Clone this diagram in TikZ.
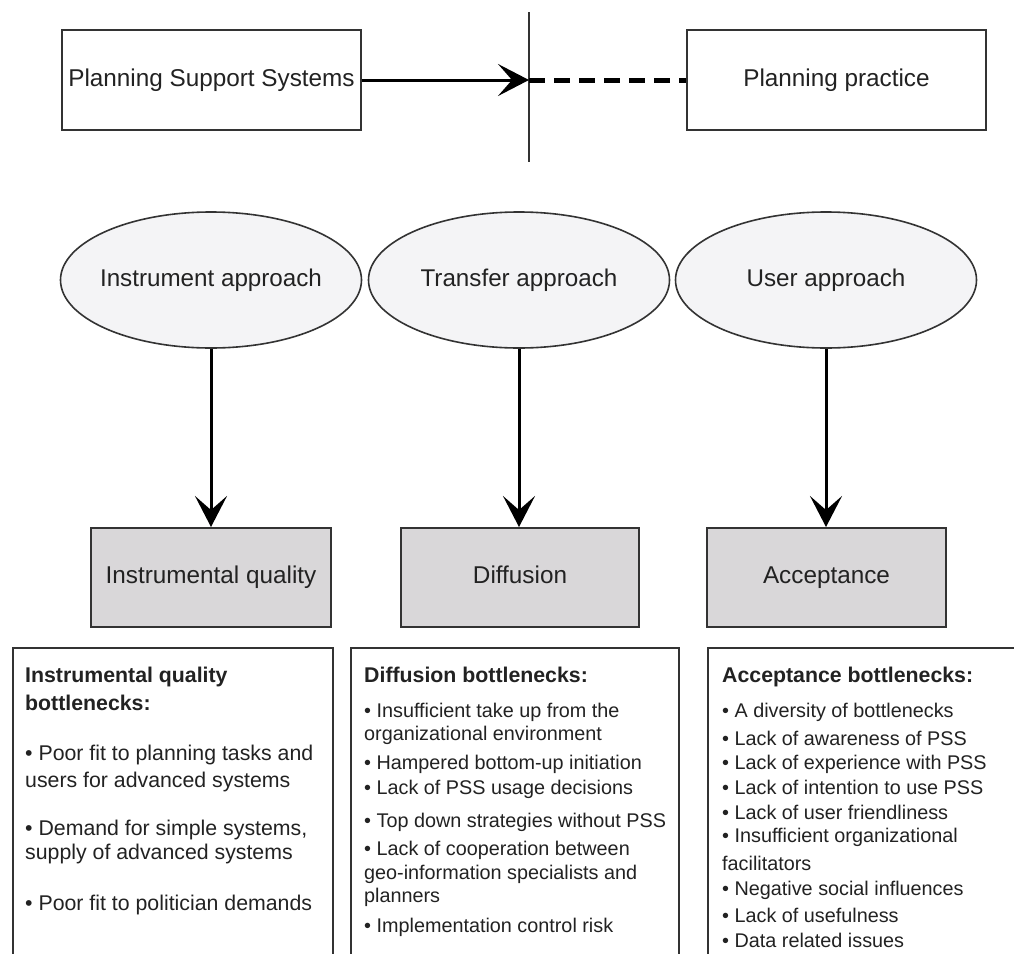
\documentclass[tikz,border=0pt]{standalone}
\usepackage{fontspec}
\setmainfont{Liberation Sans}
\usetikzlibrary{arrows.meta,shapes.geometric}
\definecolor{ink}{HTML}{222222}
\definecolor{edge}{HTML}{333333}
\definecolor{ellfill}{HTML}{F4F4F6}
\definecolor{boxfill}{HTML}{D9D7D9}
\begin{document}
\begin{tikzpicture}[x=1pt,y=-1pt,
  frame/.style={draw=edge, line width=2pt, rectangle, inner sep=0pt, text=ink},
  oneline/.style={text height=17.5pt, text depth=5pt},
  topbox/.style={frame, oneline, minimum width=299pt, minimum height=100pt,
    font=\fontsize{24.3}{29}\selectfont},
  approach/.style={ellipse, draw=edge, line width=1.6pt, fill=ellfill, oneline,
    minimum width=301pt, minimum height=136pt, inner sep=0pt, text=ink,
    font=\fontsize{24.2}{29}\selectfont},
  outcome/.style={frame, oneline, fill=boxfill, minimum height=99pt,
    font=\fontsize{24.3}{29}\selectfont},
  listbox/.style={frame, anchor=north west, minimum height=330pt},
  listtext/.style={anchor=north west, inner sep=0pt, align=left, text=ink},
  flow/.style={draw=black, line width=3pt,
    -{Stealth[length=31pt,width=32pt,inset=14pt]}},
]
\useasboundingbox (0,0) rectangle (1014,953);
\fill[white] (0,0) rectangle (1014,953);
\clip (0,0) rectangle (1014,953);

% --- systems versus practice ---
\node[topbox] (pss) at (211.5,80) {Planning Support Systems};
\node[topbox] (pp) at (836.5,80) {Planning practice};
\coordinate (cut) at (529,80);
\coordinate (cuttop) at (529,12);
\coordinate (cutbot) at (529,162);
\draw[edge, line width=2pt] (cuttop) -- (cutbot);
\draw[flow] (pss.east) -- (cut);
\draw[black, line width=5pt, dash pattern=on 16pt off 9pt] (cut) -- (pp.west);

% --- approaches ---
\node[approach] (ia) at (211,280) {\makebox[0pt]{Instrument approach}};
\node[approach] (ta) at (519,280) {\makebox[0pt]{Transfer approach}};
\node[approach] (ua) at (826,280) {\makebox[0pt]{User approach}};

% --- outcomes ---
\node[outcome, minimum width=240pt] (iq) at (211,577.5) {Instrumental quality};
\node[outcome, minimum width=238pt] (df) at (520,577.5) {Diffusion};
\node[outcome, minimum width=239pt] (ac) at (826.5,577.5) {Acceptance};

\draw[flow] (ia.south) -- (iq.north);
\draw[flow] (ta.south) -- (ta.south |- df.north);
\draw[flow] (ua.south) -- (ua.south |- ac.north);

% --- bottleneck lists ---
\node[listbox, minimum width=320pt] (iqb) at (12,647) {};
\node[listbox, minimum width=328pt] (dfb) at (350,647) {};
\node[listbox, minimum width=320pt] (acb) at (707,647) {};

\node[listtext, font=\fontsize{21.3}{26.7}\selectfont] (iqt) at (25,667)
  {\textbf{Instrumental quality}\\[1.6pt]
   \textbf{bottlenecks:}\\[23.3pt]
   • Poor fit to planning tasks and\\
   users for advanced systems\\[21.6pt]
   • Demand for simple systems,\\[-3.4pt]
   supply of advanced systems\\[25pt]
   • Poor fit to politician demands};

\node[listtext, font=\fontsize{19.8}{23.3}\selectfont] (dft) at (364,667)
  {\fontsize{21.3}{23.3}\selectfont\bfseries Diffusion bottlenecks:\\[11.7pt]
   • Insufficient take up from the\\
   organizational environment\\[5pt]
   • Hampered bottom-up initiation\\[1.7pt]
   • Lack of PSS usage decisions\\[10pt]
   • Top down strategies without PSS\\[5pt]
   • Lack of cooperation between\\
   geo-information specialists and\\
   planners\\[6.7pt]
   • Implementation control risk};

\node[listtext, font=\fontsize{19.8}{25}\selectfont] (act) at (722,667)
  {\fontsize{21.3}{25}\selectfont\bfseries Acceptance bottlenecks:\\[10pt]
   • A diversity of bottlenecks\\[3.3pt]
   • Lack of awareness of PSS\\[-1.7pt]
   • Lack of experience with PSS\\
   • Lack of intention to use PSS\\
   • Lack of user friendliness\\[-1.7pt]
   • Insufficient organizational\\[3.3pt]
   facilitators\\
   • Negative social influences\\[1.7pt]
   • Lack of usefulness\\
   • Data related issues};
\end{tikzpicture}
\end{document}
